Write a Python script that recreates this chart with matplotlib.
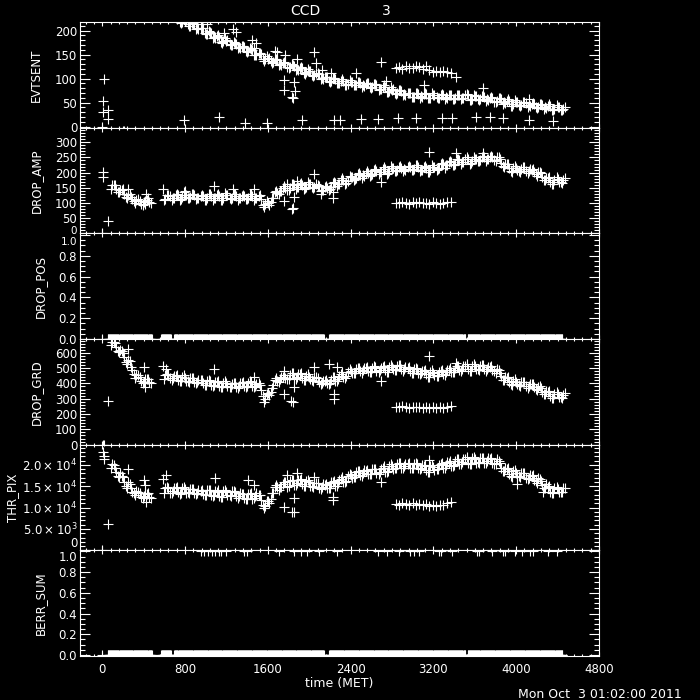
import numpy as np
import matplotlib
matplotlib.use("Agg")
import matplotlib.pyplot as plt
from matplotlib.ticker import MultipleLocator, FuncFormatter
from matplotlib.transforms import ScaledTranslation

# sampling times of the main band (two stretches, data gap around 500 s);
# two more passes are read 20 s later and 10 s earlier across the band
t_band = np.concatenate([np.arange(90, 451, 40), np.arange(610, 4451, 40)])
t_band2 = t_band + 20
t_band3 = t_band - 10

evtsent_band = [420, 395, 375, 355, 340, 325, 310, 298, 287, 277,
                250, 240, 229, 230, 219, 222, 210, 213, 203, 205,
                194, 195, 185, 187, 178, 180, 171, 173, 164, 166,
                157, 159, 149, 151, 140, 143, 134, 138, 129, 133,
                124, 127, 119, 122, 113, 116, 107, 110, 100, 103,
                95, 99, 91, 96, 89, 94, 87, 92, 85, 90,
                82, 86, 78, 83, 75, 78, 70, 74, 66, 70,
                62, 68, 61, 68, 60, 67, 60, 66, 59, 66,
                59, 65, 59, 65, 58, 64, 57, 62, 55, 60,
                53, 57, 50, 54, 47, 52, 45, 50, 43, 48,
                41, 46, 39, 44, 37, 42, 36]
evtsent_band2 = [410, 385, 365, 348, 333, 318, 304, 292, 282, 272,
                 249, 230, 232, 218, 226, 213, 216, 203, 205, 195,
                 200, 185, 189, 177, 185, 172, 176, 163, 167, 157,
                 163, 149, 153, 140, 148, 136, 140, 129, 133, 124,
                 130, 118, 123, 111, 120, 108, 112, 100, 104, 95,
                 102, 90, 96, 86, 97, 87, 93, 83, 89, 82,
                 89, 77, 83, 73, 82, 71, 76, 65, 70, 62,
                 70, 60, 68, 59, 70, 61, 67, 58, 65, 58,
                 67, 57, 65, 55, 67, 57, 63, 53, 59, 51,
                 59, 48, 54, 44, 55, 45, 51, 41, 47, 40,
                 48, 37, 44, 34, 45, 35, 41]
evtsent_band3 = [410, 395, 368, 358, 331, 324, 303, 300, 284, 279,
                 240, 243, 230, 233, 216, 220, 210, 215, 205, 205,
                 192, 197, 186, 190, 175, 179, 170, 175, 166, 167,
                 155, 161, 150, 154, 137, 142, 133, 140, 131, 134,
                 122, 129, 120, 125, 110, 115, 106, 112, 102, 104,
                 93, 101, 92, 99, 86, 93, 86, 94, 87, 91,
                 80, 88, 79, 86, 72, 77, 69, 76, 68, 71,
                 61, 70, 63, 71, 59, 66, 60, 68, 62, 67,
                 57, 67, 60, 68, 55, 63, 56, 64, 57, 61,
                 51, 59, 51, 57, 44, 51, 44, 52, 45, 49,
                 39, 48, 40, 47, 34, 41, 34]

drop_amp_band = [158, 146, 143, 131, 127, 112, 110, 98, 108, 104,
                 114, 122, 117, 125, 119, 127, 120, 126, 116, 123,
                 115, 124, 117, 123, 118, 125, 116, 124, 117, 123,
                 116, 124, 118, 112, 98, 93, 118, 134, 140, 150,
                 148, 158, 153, 160, 154, 161, 152, 156, 143, 150,
                 151, 165, 163, 176, 173, 185, 182, 193, 190, 200,
                 196, 206, 202, 211, 205, 214, 208, 216, 210, 218,
                 213, 220, 210, 215, 208, 217, 214, 227, 224, 234,
                 230, 240, 235, 244, 237, 246, 240, 250, 244, 252,
                 250, 233, 227, 214, 216, 208, 213, 205, 211, 201,
                 201, 186, 183, 170, 176, 169, 177]
drop_amp_band2 = [159, 136, 143, 119, 131, 106, 112, 94, 111, 100,
                  127, 110, 127, 111, 135, 117, 130, 112, 124, 111,
                  129, 111, 126, 109, 132, 115, 128, 111, 124, 112,
                  129, 110, 124, 94, 107, 102, 135, 128, 149, 142,
                  162, 147, 163, 146, 169, 151, 162, 141, 151, 144,
                  167, 155, 176, 164, 190, 177, 196, 183, 199, 190,
                  210, 195, 213, 197, 221, 205, 220, 204, 218, 208,
                  226, 206, 219, 201, 224, 210, 228, 216, 234, 224,
                  244, 229, 246, 230, 253, 237, 253, 238, 253, 242,
                  251, 221, 227, 204, 223, 205, 217, 199, 210, 194,
                  203, 176, 183, 162, 184, 168, 182]
drop_amp_band3 = [147, 158, 136, 145, 115, 119, 101, 108, 103, 117,
                  110, 127, 116, 131, 112, 127, 116, 130, 117, 126,
                  111, 128, 116, 130, 111, 125, 113, 128, 117, 127,
                  112, 128, 116, 125, 87, 99, 115, 140, 140, 155,
                  144, 163, 153, 167, 148, 161, 150, 160, 144, 155,
                  147, 170, 163, 182, 167, 185, 179, 198, 191, 204,
                  192, 211, 202, 218, 199, 214, 205, 221, 211, 222,
                  209, 224, 210, 222, 202, 218, 211, 231, 225, 238,
                  226, 245, 235, 250, 231, 246, 237, 254, 245, 256,
                  239, 245, 220, 228, 203, 216, 203, 217, 205, 212,
                  190, 198, 176, 184, 163, 178, 167]

drop_grd_band = [672, 640, 620, 574, 550, 490, 458, 418, 426, 410,
                 455, 433, 450, 425, 442, 418, 434, 410, 425, 402,
                 415, 392, 410, 386, 404, 383, 399, 376, 400, 384,
                 405, 386, 398, 360, 296, 322, 392, 415, 444, 433,
                 455, 438, 460, 437, 450, 426, 440, 411, 418, 401,
                 425, 418, 450, 444, 476, 466, 491, 478, 500, 484,
                 502, 484, 502, 485, 506, 491, 512, 493, 506, 481,
                 494, 471, 484, 461, 474, 453, 474, 463, 487, 476,
                 501, 489, 512, 495, 513, 495, 513, 494, 510, 489,
                 494, 446, 439, 411, 419, 394, 407, 384, 397, 375,
                 379, 347, 349, 321, 334, 313, 327]
drop_grd_band2 = [673, 612, 610, 541, 544, 463, 456, 402, 426, 402,
                  464, 425, 451, 413, 453, 415, 438, 400, 421, 392,
                  422, 383, 410, 374, 415, 378, 404, 370, 400, 379,
                  414, 376, 400, 318, 332, 343, 421, 410, 445, 428,
                  465, 432, 461, 422, 460, 421, 442, 396, 416, 397,
                  440, 416, 459, 438, 494, 467, 501, 471, 500, 477,
                  511, 475, 505, 473, 520, 489, 519, 482, 502, 471,
                  500, 459, 484, 445, 485, 451, 484, 457, 490, 473,
                  513, 482, 516, 482, 526, 492, 520, 484, 508, 479,
                  488, 424, 437, 393, 428, 388, 411, 372, 394, 361,
                  381, 330, 347, 305, 345, 309, 336]
drop_grd_band3 = [649, 661, 607, 600, 525, 506, 438, 441, 412, 432,
                  431, 461, 433, 457, 413, 437, 411, 436, 409, 424,
                  389, 418, 391, 417, 374, 400, 375, 403, 384, 408,
                  380, 411, 382, 390, 280, 338, 371, 438, 429, 456,
                  430, 465, 442, 467, 421, 444, 417, 436, 403, 424,
                  400, 444, 432, 473, 447, 484, 468, 503, 485, 507,
                  477, 509, 485, 514, 477, 508, 489, 518, 491, 504,
                  469, 496, 467, 490, 445, 470, 451, 488, 472, 499,
                  476, 514, 495, 524, 484, 512, 490, 519, 495, 512,
                  469, 471, 422, 440, 390, 411, 384, 409, 382, 398,
                  354, 372, 332, 350, 305, 330, 306]

thr_pix_band = [20300, 18200, 18000, 16000, 15900, 13700, 13900, 12400, 13400, 12500,
                14600, 13500, 14500, 13600, 14600, 13500, 14400, 13300, 14200, 13100,
                14000, 12900, 13800, 12800, 13800, 12900, 13800, 12600, 13400, 12200,
                13100, 12100, 13400, 11800, 10300, 11000, 13300, 14900, 14700, 15900,
                16100, 15300, 16400, 15500, 16300, 15100, 15800, 14600, 15400, 14500,
                15700, 15100, 16500, 16000, 17400, 16800, 18200, 17500, 18700, 17800,
                18900, 18000, 19100, 18400, 19700, 19000, 20300, 19300, 20300, 19300,
                20300, 19200, 20000, 18800, 19600, 18700, 20000, 19300, 20600, 19800,
                21000, 20200, 21400, 20500, 21500, 20500, 21500, 20500, 21500, 20500,
                21300, 19300, 19300, 17900, 18500, 17300, 18100, 16900, 17700, 16500,
                16900, 15200, 15400, 13700, 14600, 13600, 14500]
thr_pix_band2 = [19850, 17450, 17400, 15100, 15600, 13400, 13700, 12250, 13200, 12300,
                 14730, 13430, 14480, 13280, 14850, 13550, 14450, 13100, 13980, 13000,
                 14100, 12700, 13710, 12510, 14110, 12910, 13800, 12350, 13100, 12050,
                 13250, 12150, 12900, 10600, 11600, 12100, 14800, 14150, 15500, 14900,
                 16350, 15250, 16400, 15100, 16500, 15050, 15800, 14350, 15250, 14500,
                 16050, 15150, 16650, 15900, 17900, 17100, 18450, 17450, 18550, 17750,
                 19100, 17950, 19200, 18250, 20150, 19250, 20450, 19200, 20150, 19250,
                 20450, 18950, 19800, 18400, 19950, 18950, 20250, 19300, 20500, 19800,
                 21250, 20150, 21400, 20200, 21800, 20600, 21600, 20350, 21300, 20300,
                 20950, 18650, 19000, 17400, 18700, 17300, 18100, 16650, 17400, 16100,
                 16650, 14650, 14900, 13350, 14900, 13680, 14680]
thr_pix_band3 = [19200, 19300, 17200, 17250, 14650, 14500, 12900, 13500, 12700, 13450,
                 13480, 14680, 13780, 14830, 13330, 14300, 13400, 14400, 13500, 14200,
                 12900, 14000, 13000, 14060, 12560, 13610, 12810, 13700, 12700, 13250,
                 12000, 13300, 12600, 12950, 9850, 11600, 13300, 15200, 14900, 15950,
                 15000, 16400, 15650, 16750, 15050, 15900, 14800, 15700, 14700, 15550,
                 14600, 16200, 15700, 17250, 16150, 17600, 17200, 18600, 18000, 18850,
                 17800, 19100, 18350, 19650, 18450, 19800, 19300, 20450, 19650, 20400,
                 19250, 20300, 19200, 20050, 18350, 19500, 19000, 20400, 19900, 20850,
                 19900, 21300, 20600, 21750, 20250, 21300, 20500, 21600, 20800, 21550,
                 20200, 20400, 18500, 19150, 17250, 18100, 17100, 18000, 17000, 17550,
                 15800, 16300, 14600, 14950, 13350, 14380, 13580]

# short side group between 2840 and 3370 s
t_side = [2840, 2870, 2900, 2935, 2965, 3000, 3030, 3065, 3095, 3130,
          3160, 3195, 3225, 3260, 3290, 3330, 3370]
evtsent_side = [122, 125, 121, 126, 123, 122, 126, 124, 121, 127, 118, 114, 116, 113, 115, 114, 112]
drop_amp_side = [101, 99, 103, 100, 98, 102, 100, 104, 99, 101, 98, 103, 100, 97, 101, 103, 104]
drop_grd_side = [248, 243, 250, 245, 241, 247, 244, 249, 242, 246, 240, 245, 238, 243, 240, 247, 250]
thr_pix_side = [10900, 10700, 11100, 10800, 10600, 11000, 10700, 10900, 10500, 10800,
                10400, 10700, 10300, 10500, 10600, 11000, 11200]

# scattered points
evtsent_t = [0, 15, 12, 10, 54, 54, 786, 1132, 1380, 1595, 1930, 2240, 2296, 2500, 2665,
             2857, 3030, 3280, 3377, 3610, 3750, 3870, 4120, 4360,
             950, 1015, 1180, 1260, 1295, 1450, 1490, 1470, 1670, 1690, 1765, 1885,
             2050, 2065, 2120, 2210, 1760, 1758, 1855, 1860, 1834, 1848,
             2695, 2450, 2740, 3415, 3675, 4120, 3110]
evtsent_v = [0, 99, 53, 30, 35, 16, 15, 21, 8, 8, 15, 15, 15, 17, 17,
             18, 18, 18, 18, 20, 20, 18, 14, 11,
             213, 213, 195, 203, 198, 180, 174, 163, 158, 156, 150, 141,
             155, 133, 119, 112, 97, 77, 93, 75, 61, 60,
             134, 111, 96, 104, 80, 57, 87]
evtsent_low_t = [196, 214]
evtsent_low_v = [-8, -8]

drop_amp_t = [0, 12, 12, 52, 247, 414, 419, 585, 800, 1083, 1259, 1468, 1757, 1789,
              1831, 1845, 1853, 1879, 2046, 2111, 2233, 2230, 2689, 3155, 3418, 3678]
drop_amp_v = [0, 201, 184, 42, 146, 98, 131, 146, 140, 157, 146, 146, 108, 163,
              80, 82, 120, 174, 196, 130, 118, 135, 168, 267, 264, 264]

drop_grd_t = [12, 20, 52, 247, 408, 414, 585, 617, 1083, 1468, 1757, 1760, 1821, 1840,
              1850, 2046, 2191, 2265, 2239, 2239, 2689, 3155, 3418]
drop_grd_v = [0, 0, 284, 623, 504, 375, 515, 493, 493, 439, 332, 482, 284, 280,
              375, 504, 526, 504, 332, 300, 418, 579, 536]

thr_pix_t = [0, 10, 14, 18, 16, 52, 247, 408, 412, 420, 585, 617, 1092, 1404, 1468,
             1757, 1786, 1831, 1850, 1855, 1879, 2046, 2233, 2233, 2207, 2689,
             3155, 4010, 4260]
thr_pix_v = [0, 22900, 22150, 21400, 25500, 6160, 19080, 16380, 15230, 11380, 16770,
             17540, 16920, 16380, 15230, 10230, 17540, 9080, 9080, 12150, 18080, 17150,
             11770, 12530, 16000, 16000, 21160, 15620, 13690]

# DROP_POS and BERR_SUM read 0 over these spans
zero_spans = [(52, 480), (568, 665), (697, 2143), (2191, 3508), (3530, 4446)]
t_zero = np.concatenate([[0]] + [np.arange(a, b + 1, 5) for a, b in zero_spans])

berr_one_t = [954, 986, 1025, 1063, 1092, 1131, 1150, 1198, 1372, 1400, 1709, 1854,
              1921, 1979, 2095, 2269, 2666, 2750, 2866, 2978, 3010, 3058, 3251, 3276,
              3376, 3620, 3636, 3765, 3871, 3894, 3990, 4054, 4135, 4167, 4311, 4391]


def pts(ax, t, v, clip=True):
    ax.plot(t, v, linestyle='none', marker='+', ms=6.5, mew=0.8,
            color='white', clip_on=clip)


def thr_fmt(v, pos):
    if abs(v) < 1e-9:
        return '0'
    if v < 0:
        return ''
    e = int(np.floor(np.log10(v)))
    return r'$%.1f\times10^{%d}$' % (v / 10 ** e, e)


plt.rcParams['font.family'] = ['DejaVu Sans']
fig = plt.figure(figsize=(7, 7), dpi=100, facecolor='black')

W = 700.0
left, right = 80, 599
top0, ph = 22, 105.67

panels = [
    ('EVTSENT', (-2, 218), 50, 10, None, -0.071),
    ('DROP_AMP', (0, 348), 50, 10, None, -0.071),
    ('DROP_POS', (0, 1.015), 0.2, 0.05, '%.1f', -0.064),
    ('DROP_GRD', (0, 690), 100, 20, None, -0.071),
    ('THR_PIX', (0, 24700), 5000, 1000, 'thr', -0.117),
    ('BERR_SUM', (-0.01, 1.01), 0.2, 0.05, '%.1f', -0.064),
]

axes = []
for i, (name, ylim, major, minor, fmt, lx) in enumerate(panels):
    y_top = top0 + i * ph
    ax = fig.add_axes([left / W, 1 - (y_top + ph) / W, (right - left) / W, ph / W])
    ax.set_facecolor('black')
    ax.set_xlim(-215, 4800)
    ax.set_ylim(*ylim)
    ax.xaxis.set_major_locator(MultipleLocator(800))
    ax.xaxis.set_minor_locator(MultipleLocator(80))
    ax.yaxis.set_major_locator(MultipleLocator(major))
    ax.yaxis.set_minor_locator(MultipleLocator(minor))
    if fmt == 'thr':
        ax.yaxis.set_major_formatter(FuncFormatter(thr_fmt))
    elif fmt is not None:
        ax.yaxis.set_major_formatter(FuncFormatter(lambda v, p, f=fmt: f % (v + 0.0)))
    else:
        ax.yaxis.set_major_formatter(FuncFormatter(lambda v, p: '%d' % round(v)))
    for s in ax.spines.values():
        s.set_color('white')
        s.set_linewidth(0.8)
    ax.tick_params(which='both', direction='in', top=True, right=True,
                   colors='white', width=0.8, labelsize=8.5)
    ax.tick_params(axis='y', which='major', length=7.2, pad=2)
    ax.tick_params(axis='y', which='minor', length=3.6)
    ax.tick_params(axis='x', which='major', length=3.0, pad=5)
    ax.tick_params(axis='x', which='minor', length=1.5)
    if i < len(panels) - 1:
        ax.tick_params(axis='x', labelbottom=False)
    ax.set_ylabel(name, color='white', fontsize=8.5)
    ax.yaxis.set_label_coords(lx, 0.5)
    axes.append(ax)

ax_evt, ax_amp, ax_pos, ax_grd, ax_thr, ax_berr = axes

for ax, b1, b2, b3, side, t_out, v_out in [
        (ax_evt, evtsent_band, evtsent_band2, evtsent_band3, evtsent_side, evtsent_t, evtsent_v),
        (ax_amp, drop_amp_band, drop_amp_band2, drop_amp_band3, drop_amp_side, drop_amp_t, drop_amp_v),
        (ax_grd, drop_grd_band, drop_grd_band2, drop_grd_band3, drop_grd_side, drop_grd_t, drop_grd_v),
        (ax_thr, thr_pix_band, thr_pix_band2, thr_pix_band3, thr_pix_side, thr_pix_t, thr_pix_v)]:
    pts(ax, t_band, b1)
    pts(ax, t_band2, b2)
    pts(ax, t_band3, b3)
    pts(ax, t_side, side)
    pts(ax, t_out, v_out)

pts(ax_evt, evtsent_low_t, evtsent_low_v, clip=False)
pts(ax_pos, t_zero, np.zeros(len(t_zero)))
pts(ax_berr, t_zero, np.zeros(len(t_zero)))
pts(ax_berr, berr_one_t, np.ones(len(berr_one_t)))

ax_berr.set_xlabel('time (MET)', color='white', fontsize=9, labelpad=1)

# where two panels meet, the edge labels are stacked so they do not collide
fig.canvas.draw()


def edge_label(ax, loc, va, dy_px=0.0, size=None):
    for tk in ax.yaxis.get_major_ticks():
        if abs(tk.get_loc() - loc) < 1e-6:
            lab = tk.label1
            lab.set_verticalalignment(va)
            if size:
                lab.set_fontsize(size)
            if dy_px:
                lab.set_transform(lab.get_transform() +
                                  ScaledTranslation(0, dy_px / 100.0, fig.dpi_scale_trans))


edge_label(ax_amp, 0, 'bottom', -2.4, 7.5)
edge_label(ax_pos, 1.0, 'top', -1.8, 7.5)
edge_label(ax_thr, 0, 'bottom')
edge_label(ax_berr, 1.0, 'top')

fig.text(290 / W, 1 - 11 / W, 'CCD', color='white', fontsize=10, ha='left', va='center')
fig.text(382 / W, 1 - 11 / W, '3', color='white', fontsize=10, ha='left', va='center')
fig.text(518 / W, 1 - 694 / W, 'Mon Oct  3 01:02:00 2011', color='white',
         fontsize=9, ha='left', va='center')

fig.savefig('out.png', dpi=100, facecolor='black')
